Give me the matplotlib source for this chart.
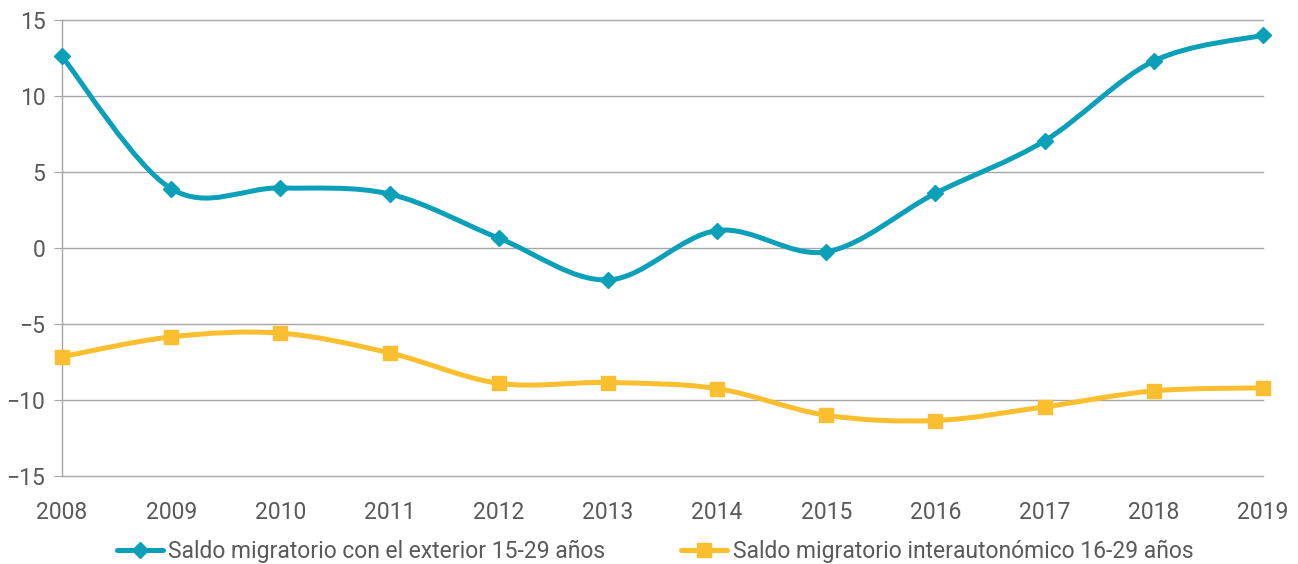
import numpy as np
import matplotlib
matplotlib.use("Agg")
import matplotlib.pyplot as plt
from matplotlib.path import Path
from matplotlib.patches import PathPatch
from matplotlib.lines import Line2D

plt.rcParams['font.family'] = ['Roboto', 'DejaVu Sans']

years = [2008, 2009, 2010, 2011, 2012, 2013, 2014, 2015, 2016, 2017, 2018, 2019]
exterior = [12.6, 3.9, 3.95, 3.55, 0.65, -2.1, 1.15, -0.25, 3.6, 7.05, 12.3, 14.0]
interauton = [-7.15, -5.85, -5.6, -6.9, -8.9, -8.85, -9.25, -11.0, -11.35, -10.45, -9.4, -9.2]

label_ext = "Saldo migratorio con el exterior 15-29 años"
label_int = "Saldo migratorio interautonómico 16-29 años"

blue = "#0AA0B9"
yellow = "#FBBE2E"
grid_c = "#A6A6A6"
text_c = "#595959"


def smooth_path(x, y):
    # Catmull-Rom style bezier, like the spreadsheet "smoothed line"
    x = np.asarray(x, float)
    y = np.asarray(y, float)
    px = np.concatenate([[x[0]], x, [x[-1]]])
    py = np.concatenate([[y[0]], y, [y[-1]]])
    verts = [(x[0], y[0])]
    codes = [Path.MOVETO]
    for i in range(1, len(x)):
        c1 = (px[i] + (px[i + 1] - px[i - 1]) / 6, py[i] + (py[i + 1] - py[i - 1]) / 6)
        c2 = (px[i + 1] - (px[i + 2] - px[i]) / 6, py[i + 1] - (py[i + 2] - py[i]) / 6)
        verts += [c1, c2, (x[i], y[i])]
        codes += [Path.CURVE4] * 3
    return Path(verts, codes)


fig = plt.figure(figsize=(12.98, 5.64), dpi=100)
ax = fig.add_axes([62 / 1298, 1 - 476 / 564, (1263 - 62) / 1298, (476 - 20) / 564])

ax.set_xlim(2008, 2019)
ax.set_ylim(-15, 15)
yt = list(range(-15, 16, 5))
ax.set_yticks(yt)
ax.set_yticklabels([("\u2212" + str(-v)) if v < 0 else str(v) for v in yt])
ax.set_xticks(years)
ax.set_xticklabels([str(y) for y in years])
for v in yt:
    ax.axhline(v, color=grid_c, lw=1, zorder=1, clip_on=False)
for s in ['top', 'right', 'bottom']:
    ax.spines[s].set_visible(False)
ax.spines['left'].set_color(grid_c)
ax.spines['left'].set_linewidth(1)
ax.tick_params(axis='y', length=6, color=grid_c, labelsize=16.5, labelcolor=text_c, pad=6)
ax.tick_params(axis='x', length=0, labelsize=16.5, labelcolor=text_c, pad=18)

for vals, col, mk, ms in [(exterior, blue, 'D', 8), (interauton, yellow, 's', 10)]:
    ax.add_patch(PathPatch(smooth_path(years, vals), facecolor='none', edgecolor=col,
                           lw=3.6, capstyle='round', joinstyle='round', zorder=3))
    ax.plot(years, vals, ls='none', marker=mk, ms=ms, color=col, zorder=4, clip_on=False)

handles = [Line2D([], [], color=blue, lw=3.6, marker='D', ms=8, solid_capstyle='round'),
           Line2D([], [], color=yellow, lw=3.6, marker='s', ms=10, solid_capstyle='round')]
leg = fig.legend(handles, [label_ext, label_int], loc='center',
                 bbox_to_anchor=(0.5 + 6 / 1298, 1 - 551 / 564),
                 ncol=2, frameon=False, fontsize=16.5, handlelength=2.0, handletextpad=0.25,
                 columnspacing=3.3)
for t in leg.get_texts():
    t.set_color(text_c)

fig.savefig("out.png", dpi=100)
